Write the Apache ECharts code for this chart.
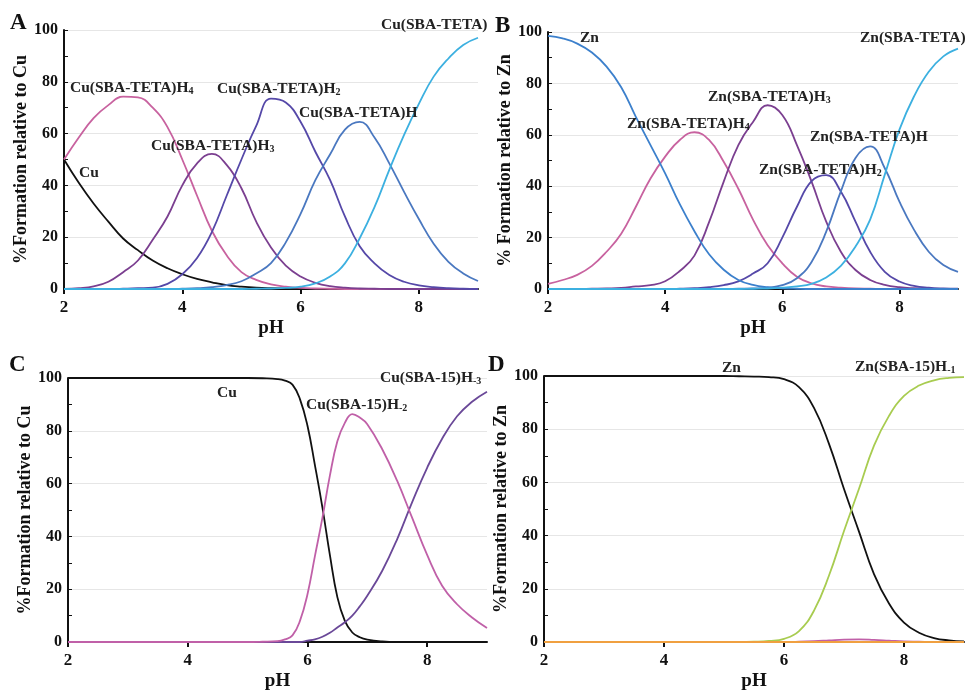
<!DOCTYPE html>
<html>
<head>
<meta charset="utf-8">
<script src="https://cdn.jsdelivr.net/npm/echarts@6/dist/echarts.min.js"></script>
<style>
  html, body { margin: 0; padding: 0; background: #fff; }
  #chart { width: 966px; height: 692px; }
</style>
</head>
<body>
<div id="chart"></div>
<script>
// pH grid used for panels A, B and D
const phA = [2, 2.25, 2.5, 2.75, 3, 3.25, 3.5, 3.75, 4, 4.25, 4.5, 4.75, 5, 5.25, 5.5, 5.75, 6, 6.25, 6.5, 6.75, 7, 7.25, 7.5, 7.75, 8, 8.25, 8.5, 8.75, 9];
// panel C needs finer points around the steep drop
const phC = [2, 2.5, 3, 3.5, 4, 4.5, 5, 5.25, 5.5, 5.625, 5.75, 5.875, 6, 6.125, 6.25, 6.375, 6.5, 6.625, 6.75, 6.875, 7, 7.25, 7.5, 7.75, 8, 8.25, 8.5, 8.75, 9];
const phTicks = [2, 4, 6, 8];

// A: Cu + SBA-TETA
const cuA   = [50, 41, 33, 26, 19.5, 15, 11, 8, 5.7, 3.9, 2.6, 1.5, 0.9, 0.5, 0.3, 0.2, 0.1, 0, 0, 0, 0, 0, 0, 0, 0, 0, 0, 0, 0];
const h4A   = [50, 58.5, 66, 71, 74.3, 74, 70, 62.5, 50, 36, 22.5, 13, 6.5, 3.5, 1.8, 0.9, 0.4, 0.2, 0.1, 0, 0, 0, 0, 0, 0, 0, 0, 0, 0];
const h3A   = [0, 0.3, 1, 2.8, 6.5, 11, 19, 28, 40, 48.5, 52.2, 47.9, 38.9, 26, 16, 9, 4.8, 2.4, 1.1, 0.5, 0.2, 0.1, 0, 0, 0, 0, 0, 0, 0];
const h2A   = [0, 0, 0, 0, 0.1, 0.3, 0.5, 2, 5.7, 12, 22, 36, 50, 63, 73.5, 72, 64.6, 53, 42, 28, 16.5, 9.9, 5.4, 2.8, 1.4, 0.7, 0.3, 0.1, 0];
const h1A   = [0, 0, 0, 0, 0, 0, 0, 0, 0.1, 0.3, 0.7, 1.5, 3, 6, 10, 18, 29, 42, 52, 61.5, 64.5, 58.5, 48.5, 37.5, 27, 17.5, 10.5, 6, 3.1];
const tetaA = [0, 0, 0, 0, 0, 0, 0, 0, 0, 0, 0, 0, 0, 0.1, 0.2, 0.4, 0.9, 2.2, 4.8, 9.9, 19.6, 31.6, 46, 59.5, 71.5, 82, 89, 94.2, 97];

// B: Zn + SBA-TETA
const znB   = [98.5, 97.5, 95.5, 92, 86.5, 78.5, 67, 56, 45, 33, 22.5, 13.5, 7.5, 3.5, 1.6, 0.7, 0.3, 0.1, 0, 0, 0, 0, 0, 0, 0, 0, 0, 0, 0];
const h4B   = [2, 3.5, 5.5, 9, 14.5, 21.5, 32, 43, 51.5, 58, 61, 58, 49.5, 39, 27, 17, 10, 4.8, 2.2, 1, 0.5, 0.2, 0.1, 0, 0, 0, 0, 0, 0];
const h3B   = [0, 0, 0, 0.1, 0.2, 0.4, 1, 1.5, 3, 7, 13, 26, 41.8, 56, 65, 71.5, 67.7, 56, 41.8, 26.2, 14.5, 7.4, 3.5, 1.6, 0.7, 0.3, 0.1, 0, 0];
const h2B   = [0, 0, 0, 0, 0, 0, 0, 0, 0, 0.1, 0.3, 0.7, 1.5, 3, 6, 10, 20, 32, 42, 44.3, 37.9, 26.2, 14.5, 6.7, 2.9, 1.2, 0.5, 0.2, 0.1];
const h1B   = [0, 0, 0, 0, 0, 0, 0, 0, 0, 0, 0, 0, 0, 0.1, 0.2, 0.5, 1.5, 4.2, 10.5, 22.3, 38, 51, 55.5, 47, 34, 23, 14.5, 9.3, 6.7];
const tetaB = [0, 0, 0, 0, 0, 0, 0, 0, 0, 0, 0, 0, 0, 0, 0.1, 0.2, 0.5, 1, 2, 4.5, 9, 16.5, 27, 44.5, 62, 75, 84.5, 90.5, 93.5];

// C: Cu + SBA-15 (on phC)
const cuC   = [100, 100, 100, 100, 100, 100, 100, 99.9, 99.6, 99, 97.5, 92, 82, 67, 51, 33, 17, 8, 3.6, 1.8, 0.9, 0.2, 0, 0, 0, 0, 0, 0, 0];
const hm2C  = [0, 0, 0, 0, 0, 0, 0, 0.1, 0.3, 1, 2.5, 8, 18, 32.5, 47, 63, 76, 83, 86.3, 85, 82.5, 73, 61, 47, 33, 21.3, 14.3, 9.3, 5.3];
const hm3C  = [0, 0, 0, 0, 0, 0, 0, 0, 0, 0, 0, 0, 0.5, 1, 2, 3.5, 5.5, 7.5, 10, 13.5, 17.5, 27, 39, 53, 66, 77, 85.5, 91, 94.8];

// D: Zn + SBA-15
const znD    = [100, 100, 100, 100, 100, 100, 100, 100, 100, 100, 100, 100, 100, 99.9, 99.8, 99.6, 98.8, 95.8, 88, 74.5, 57.5, 41.5, 25.5, 14.5, 7.3, 3.5, 1.5, 0.6, 0.2];
const hm1D   = [0, 0, 0, 0, 0, 0, 0, 0, 0, 0, 0, 0, 0, 0, 0.1, 0.4, 1.2, 4.1, 11.8, 25, 41.7, 57.6, 73.8, 85, 92.5, 96.4, 98.4, 99.3, 99.6];
const minorD = [0, 0, 0, 0, 0, 0, 0, 0, 0, 0, 0, 0, 0, 0, 0, 0, 0, 0.1, 0.3, 0.6, 0.9, 1, 0.8, 0.5, 0.2, 0.1, 0, 0, 0];
const zeroD  = [0, 0, 0, 0, 0, 0, 0, 0, 0, 0, 0, 0, 0, 0, 0, 0, 0, 0, 0, 0, 0, 0, 0, 0, 0, 0, 0, 0, 0];

const serif = '"Liberation Serif", "Times New Roman", serif';

const grids = [
  { left: 64, top: 30, width: 414, height: 259 },
  { left: 548, top: 32, width: 410, height: 257 },
  { left: 68, top: 378, width: 419, height: 265 },
  { left: 544, top: 376, width: 420, height: 266 }
];
const yNames = ["%Formation relative to Cu", "% Formation relative to Zn", "%Formation relative to Cu", "%Formation relative to Zn"];

function xAxis(i) {
  return {
    gridIndex: i, type: "value", min: 2, max: 9, interval: 2,
    name: "pH", nameLocation: "middle", nameGap: 30,
    nameTextStyle: { fontFamily: serif, fontWeight: "bold", fontSize: 19, color: "#111" },
    axisLine: { lineStyle: { color: "#111", width: 2 } },
    axisTick: { customValues: phTicks, length: 5, lineStyle: { color: "#111", width: 2 } },
    axisLabel: { customValues: phTicks, margin: 10, fontFamily: serif, fontWeight: "bold", fontSize: 17, color: "#111" },
    splitLine: { show: false }
  };
}
function yAxis(i) {
  return {
    gridIndex: i, type: "value", min: 0, max: 100, interval: 20,
    name: yNames[i], nameLocation: "middle", nameGap: 34,
    nameTextStyle: { fontFamily: serif, fontWeight: "bold", fontSize: 18, color: "#111" },
    axisLine: { show: true, lineStyle: { color: "#111", width: 2 } },
    axisTick: { show: true, inside: true, length: 4, lineStyle: { color: "#111" } },
    minorTick: { show: true, splitNumber: 2, length: 4, lineStyle: { color: "#111" } },
    axisLabel: { margin: 6, fontFamily: serif, fontWeight: "bold", fontSize: 16, color: "#111" },
    splitLine: { show: true, lineStyle: { color: "#e6e6e6", width: 1 } }
  };
}
function line(i, xs, ys, color) {
  return {
    type: "line", xAxisIndex: i, yAxisIndex: i,
    data: xs.map((x, k) => [x, ys[k]]),
    smooth: 0.45, showSymbol: false, silent: true,
    lineStyle: { color: color, width: 1.8 }
  };
}
function lbl(x, y, main, sub) {
  return {
    type: "text", x: x, y: y, z: 100,
    style: {
      text: sub ? "{m|" + main + "}{s|" + sub + "}" : "{m|" + main + "}",
      verticalAlign: "middle",
      rich: {
        m: { fontFamily: serif, fontWeight: "bold", fontSize: 15.5, fill: "#222", lineHeight: 16, verticalAlign: "bottom" },
        s: { fontFamily: serif, fontWeight: "bold", fontSize: 10, fill: "#222", lineHeight: 10, verticalAlign: "bottom" }
      }
    }
  };
}
function letter(x, y, t) {
  return { type: "text", x: x, y: y, z: 100,
    style: { text: t, fontFamily: serif, fontWeight: "bold", fontSize: 23, fill: "#111", verticalAlign: "middle" } };
}

const chart = echarts.init(document.getElementById("chart"));
chart.setOption({
  backgroundColor: "#fff",
  animation: false,
  grid: grids,
  xAxis: [0, 1, 2, 3].map(xAxis),
  yAxis: [0, 1, 2, 3].map(yAxis),
  series: [
    line(0, phA, cuA, "#111111"),
    line(0, phA, h4A, "#c8629f"),
    line(0, phA, h3A, "#7b3f90"),
    line(0, phA, h2A, "#5548a8"),
    line(0, phA, h1A, "#4a78c0"),
    line(0, phA, tetaA, "#3cb0e0"),

    line(1, phA, h4B, "#c8629f"),
    line(1, phA, h3B, "#7b3f90"),
    line(1, phA, h2B, "#5548a8"),
    line(1, phA, h1B, "#4a78c0"),
    line(1, phA, znB, "#3c80cc"),
    line(1, phA, tetaB, "#3cb0e0"),

    line(2, phC, cuC, "#111111"),
    line(2, phC, hm3C, "#6a4898"),
    line(2, phC, hm2C, "#c060a8"),

    line(3, phA, znD, "#111111"),
    line(3, phA, hm1D, "#a8cc50"),
    line(3, phA, minorD, "#c060a8"),
    line(3, phA, zeroD, "#f0a040")
  ],
  graphic: [
    letter(10, 23, "A"), letter(495, 26, "B"), letter(9, 365, "C"), letter(488, 365, "D"),

    lbl(70, 88, "Cu(SBA-TETA)H", "4"),
    lbl(79, 173, "Cu"),
    lbl(151, 146, "Cu(SBA-TETA)H", "3"),
    lbl(217, 89, "Cu(SBA-TETA)H", "2"),
    lbl(299, 113, "Cu(SBA-TETA)H"),
    lbl(381, 25, "Cu(SBA-TETA)"),

    lbl(580, 38, "Zn"),
    lbl(860, 38, "Zn(SBA-TETA)"),
    lbl(708, 97, "Zn(SBA-TETA)H", "3"),
    lbl(627, 124, "Zn(SBA-TETA)H", "4"),
    lbl(810, 137, "Zn(SBA-TETA)H"),
    lbl(759, 170, "Zn(SBA-TETA)H", "2"),

    lbl(217, 393, "Cu"),
    lbl(306, 405, "Cu(SBA-15)H", "-2"),
    lbl(380, 378, "Cu(SBA-15)H", "-3"),

    lbl(722, 368, "Zn"),
    lbl(855, 367, "Zn(SBA-15)H", "-1")
  ]
});
</script>
</body>
</html>
